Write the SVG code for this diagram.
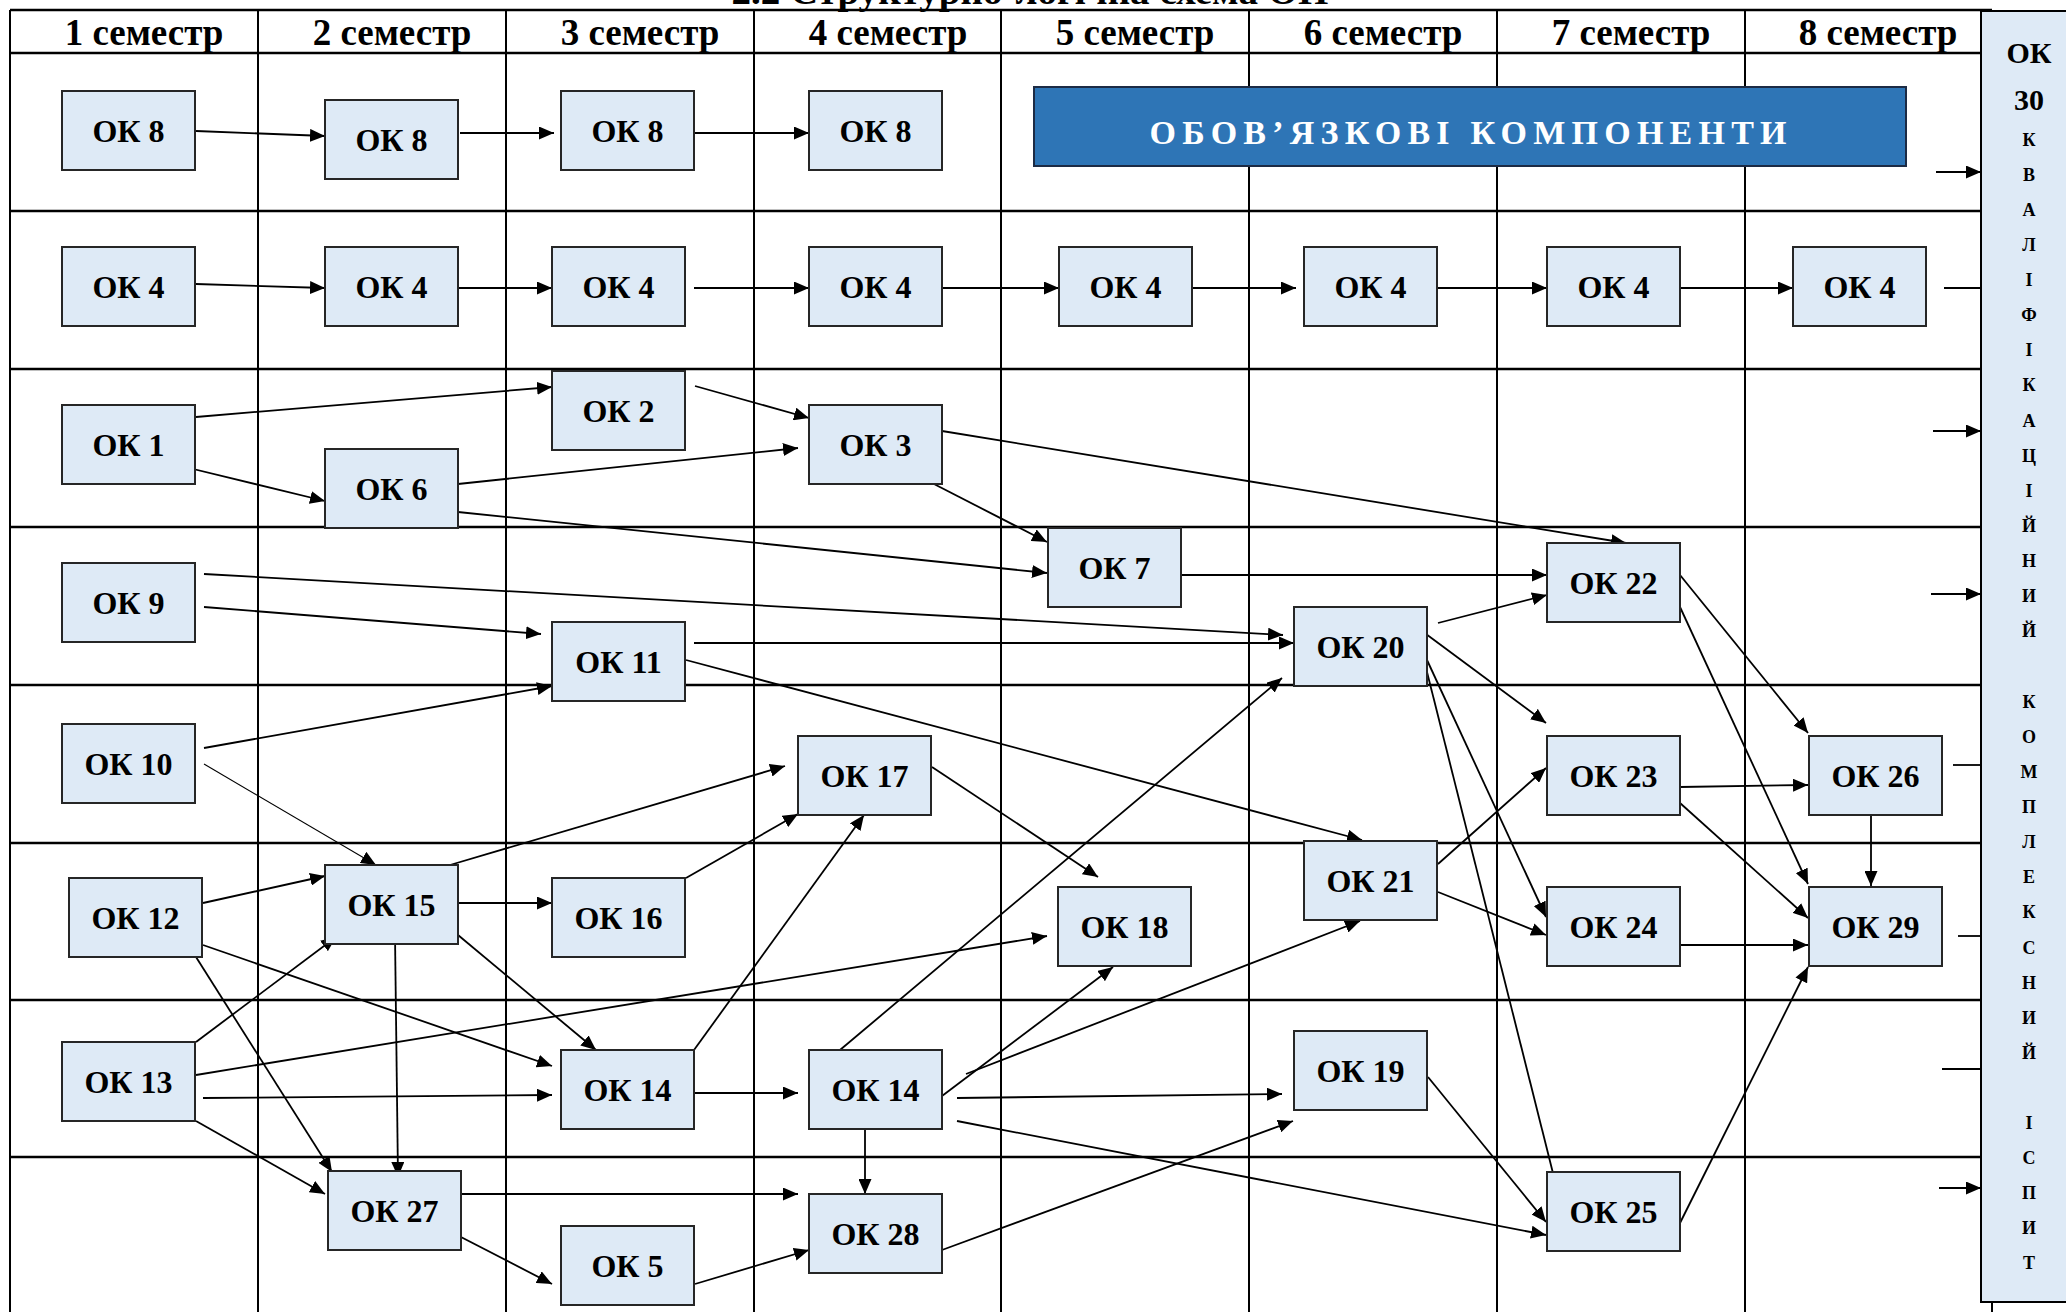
<svg xmlns="http://www.w3.org/2000/svg" width="2066" height="1312" viewBox="0 0 2066 1312">
<style>
.grid line{stroke:#000;stroke-width:2}
.grid .h{stroke-width:2.6}
.node rect{fill:#DEEAF6;stroke:#262626;stroke-width:2}
.node text{font-family:"Liberation Serif","Times New Roman",serif;font-weight:bold;font-size:32px;fill:#000;text-anchor:middle}
.hdr{font-family:"Liberation Serif","Times New Roman",serif;font-weight:bold;font-size:37px;fill:#000;text-anchor:middle}
.side{font-family:"Liberation Serif","Times New Roman",serif;font-weight:bold;fill:#000;text-anchor:middle}
.conn line{stroke:#000;stroke-width:1.8;fill:none}
.conn .a{marker-end:url(#arr)}
.conn .thin{stroke-width:1.1}
</style>
<defs>
<marker id="arr" markerUnits="userSpaceOnUse" markerWidth="16" markerHeight="13" refX="15" refY="6.5" orient="auto">
<path d="M0,0 L15,6.5 L0,13 z" fill="#000"/>
</marker>
</defs>
<rect width="2066" height="1312" fill="#fff"/>
<text class="hdr" x="1030" y="4" font-size="28" textLength="597" lengthAdjust="spacingAndGlyphs">2.2 Структурно-логічна схема ОП</text>
<g class="grid" id="grid">
<line class="h" x1="10" y1="10" x2="1992" y2="10"/>
<line class="h" x1="10" y1="53" x2="1992" y2="53"/>
<line class="h" x1="10" y1="211" x2="1992" y2="211"/>
<line class="h" x1="10" y1="369" x2="1992" y2="369"/>
<line class="h" x1="10" y1="527" x2="1992" y2="527"/>
<line class="h" x1="10" y1="685" x2="1992" y2="685"/>
<line class="h" x1="10" y1="843" x2="1992" y2="843"/>
<line class="h" x1="10" y1="1000" x2="1992" y2="1000"/>
<line class="h" x1="10" y1="1157" x2="1992" y2="1157"/>
<line x1="10" y1="10" x2="10" y2="1312"/>
<line x1="258" y1="10" x2="258" y2="1312"/>
<line x1="506" y1="10" x2="506" y2="1312"/>
<line x1="754" y1="10" x2="754" y2="1312"/>
<line x1="1001" y1="10" x2="1001" y2="1312"/>
<line x1="1249" y1="10" x2="1249" y2="1312"/>
<line x1="1497" y1="10" x2="1497" y2="1312"/>
<line x1="1745" y1="10" x2="1745" y2="1312"/>
<line x1="1992" y1="10" x2="1992" y2="1312"/>
</g>
<g id="headers">
<text class="hdr" x="144" y="45">1 семестр</text>
<text class="hdr" x="392" y="45">2 семестр</text>
<text class="hdr" x="640" y="45">3 семестр</text>
<text class="hdr" x="888" y="45">4 семестр</text>
<text class="hdr" x="1135" y="45">5 семестр</text>
<text class="hdr" x="1383" y="45">6 семестр</text>
<text class="hdr" x="1631" y="45">7 семестр</text>
<text class="hdr" x="1878" y="45">8 семестр</text>
</g>
<g id="banner">
<rect x="1034" y="87" width="872" height="79" fill="#2E75B6" stroke="#1C2B45" stroke-width="2"/>
<text x="1468" y="144" font-family="'Liberation Serif','Times New Roman',serif" font-weight="bold" font-size="34" fill="#fff" text-anchor="middle" textLength="637" lengthAdjust="spacing">ОБОВ’ЯЗКОВІ   КОМПОНЕНТИ</text>
</g>
<g class="conn" id="connectors">
<line class="a" x1="196" y1="131" x2="325" y2="136"/>
<line class="a" x1="460" y1="133" x2="554" y2="133"/>
<line class="a" x1="695" y1="133" x2="809" y2="133"/>
<line class="a" x1="196" y1="284" x2="325" y2="288"/>
<line class="a" x1="450" y1="288" x2="552" y2="288"/>
<line class="a" x1="694" y1="288" x2="809" y2="288"/>
<line class="a" x1="942" y1="288" x2="1059" y2="288"/>
<line class="a" x1="1191" y1="288" x2="1296" y2="288"/>
<line class="a" x1="1437" y1="288" x2="1547" y2="288"/>
<line class="a" x1="1680" y1="288" x2="1793" y2="288"/>
<line x1="1944" y1="288" x2="1981" y2="288"/>
<line class="a" x1="1936" y1="172" x2="1981" y2="172"/>
<line class="a" x1="1933" y1="431" x2="1981" y2="431"/>
<line class="a" x1="1931" y1="594" x2="1981" y2="594"/>
<line x1="1953" y1="765" x2="1981" y2="765"/>
<line x1="1958" y1="936" x2="1981" y2="936"/>
<line x1="1942" y1="1069" x2="1981" y2="1069"/>
<line class="a" x1="1939" y1="1188" x2="1981" y2="1188"/>
<line class="a" x1="196" y1="417" x2="552" y2="387"/>
<line class="a" x1="185" y1="467" x2="325" y2="501"/>
<line class="a" x1="695" y1="386" x2="809" y2="418"/>
<line class="a" x1="458" y1="484" x2="798" y2="448"/>
<line class="a" x1="458" y1="512" x2="1047" y2="573"/>
<line class="a" x1="934" y1="484" x2="1047" y2="542"/>
<line class="a" x1="942" y1="431" x2="1626" y2="543"/>
<line class="a" x1="204" y1="574" x2="1283" y2="635"/>
<line class="a" x1="204" y1="607" x2="541" y2="634"/>
<line class="a" x1="694" y1="643" x2="1294" y2="643"/>
<line class="a" x1="686" y1="660" x2="1362" y2="840"/>
<line class="a" x1="204" y1="748" x2="552" y2="686"/>
<line class="a thin" x1="204" y1="764" x2="376" y2="865"/>
<line class="a" x1="1181" y1="575" x2="1547" y2="575"/>
<line class="a" x1="1438" y1="623" x2="1547" y2="595"/>
<line class="a" x1="1426" y1="634" x2="1546" y2="723"/>
<line class="a" x1="1427" y1="660" x2="1546" y2="917"/>
<line class="a" x1="1427" y1="672" x2="1558" y2="1193"/>
<line class="a" x1="1680" y1="575" x2="1808" y2="733"/>
<line class="a" x1="1680" y1="607" x2="1808" y2="884"/>
<line class="a" x1="1438" y1="864" x2="1546" y2="768"/>
<line class="a" x1="1438" y1="892" x2="1546" y2="935"/>
<line class="a" x1="1680" y1="787" x2="1808" y2="785"/>
<line class="a" x1="1680" y1="803" x2="1808" y2="918"/>
<line class="a" x1="1680" y1="945" x2="1808" y2="945"/>
<line class="a" x1="1871" y1="815" x2="1871" y2="886"/>
<line class="a" x1="1680" y1="1223" x2="1808" y2="967"/>
<line class="a" x1="1428" y1="1077" x2="1546" y2="1222"/>
<line class="a" x1="203" y1="903" x2="325" y2="876"/>
<line class="a" x1="203" y1="945" x2="552" y2="1066"/>
<line class="a" x1="196" y1="957" x2="332" y2="1172"/>
<line class="a" x1="196" y1="1042" x2="336" y2="937"/>
<line class="a" x1="196" y1="1075" x2="1047" y2="936"/>
<line class="a" x1="203" y1="1098" x2="552" y2="1095"/>
<line class="a" x1="196" y1="1121" x2="325" y2="1194"/>
<line class="a" x1="458" y1="903" x2="552" y2="903"/>
<line class="a" x1="450" y1="865" x2="785" y2="766"/>
<line class="a" x1="458" y1="935" x2="596" y2="1050"/>
<line class="a" x1="395" y1="935" x2="398" y2="1177"/>
<line class="a" x1="686" y1="878" x2="798" y2="814"/>
<line class="a" x1="694" y1="1050" x2="864" y2="815"/>
<line class="a" x1="932" y1="767" x2="1098" y2="877"/>
<line class="a" x1="694" y1="1093" x2="798" y2="1093"/>
<line class="a" x1="840" y1="1050" x2="1282" y2="678"/>
<line class="a" x1="942" y1="1096" x2="1113" y2="967"/>
<line class="a" x1="966" y1="1074" x2="1360" y2="921"/>
<line class="a" x1="957" y1="1098" x2="1282" y2="1094"/>
<line class="a" x1="957" y1="1121" x2="1546" y2="1235"/>
<line class="a" x1="865" y1="1121" x2="865" y2="1194"/>
<line class="a" x1="461" y1="1194" x2="798" y2="1194"/>
<line class="a" x1="459" y1="1236" x2="552" y2="1284"/>
<line class="a" x1="695" y1="1284" x2="809" y2="1250"/>
<line class="a" x1="942" y1="1250" x2="1293" y2="1121"/>
</g>
<g class="node" id="ok8-1"><rect x="62" y="91" width="133" height="79"/><text x="128.5" y="142">ОК 8</text></g>
<g class="node" id="ok8-2"><rect x="325" y="100" width="133" height="79"/><text x="391.5" y="151">ОК 8</text></g>
<g class="node" id="ok8-3"><rect x="561" y="91" width="133" height="79"/><text x="627.5" y="142">ОК 8</text></g>
<g class="node" id="ok8-4"><rect x="809" y="91" width="133" height="79"/><text x="875.5" y="142">ОК 8</text></g>
<g class="node" id="ok4-1"><rect x="62" y="247" width="133" height="79"/><text x="128.5" y="298">ОК 4</text></g>
<g class="node" id="ok4-2"><rect x="325" y="247" width="133" height="79"/><text x="391.5" y="298">ОК 4</text></g>
<g class="node" id="ok4-3"><rect x="552" y="247" width="133" height="79"/><text x="618.5" y="298">ОК 4</text></g>
<g class="node" id="ok4-4"><rect x="809" y="247" width="133" height="79"/><text x="875.5" y="298">ОК 4</text></g>
<g class="node" id="ok4-5"><rect x="1059" y="247" width="133" height="79"/><text x="1125.5" y="298">ОК 4</text></g>
<g class="node" id="ok4-6"><rect x="1304" y="247" width="133" height="79"/><text x="1370.5" y="298">ОК 4</text></g>
<g class="node" id="ok4-7"><rect x="1547" y="247" width="133" height="79"/><text x="1613.5" y="298">ОК 4</text></g>
<g class="node" id="ok4-8"><rect x="1793" y="247" width="133" height="79"/><text x="1859.5" y="298">ОК 4</text></g>
<g class="node" id="ok1"><rect x="62" y="405" width="133" height="79"/><text x="128.5" y="456">ОК 1</text></g>
<g class="node" id="ok2"><rect x="552" y="371" width="133" height="79"/><text x="618.5" y="422">ОК 2</text></g>
<g class="node" id="ok6"><rect x="325" y="449" width="133" height="79"/><text x="391.5" y="500">ОК 6</text></g>
<g class="node" id="ok3"><rect x="809" y="405" width="133" height="79"/><text x="875.5" y="456">ОК 3</text></g>
<g class="node" id="ok9"><rect x="62" y="563" width="133" height="79"/><text x="128.5" y="614">ОК 9</text></g>
<g class="node" id="ok11"><rect x="552" y="622" width="133" height="79"/><text x="618.5" y="673">ОК 11</text></g>
<g class="node" id="ok7"><rect x="1048" y="528" width="133" height="79"/><text x="1114.5" y="579">ОК 7</text></g>
<g class="node" id="ok20"><rect x="1294" y="607" width="133" height="79"/><text x="1360.5" y="658">ОК 20</text></g>
<g class="node" id="ok22"><rect x="1547" y="543" width="133" height="79"/><text x="1613.5" y="594">ОК 22</text></g>
<g class="node" id="ok10"><rect x="62" y="724" width="133" height="79"/><text x="128.5" y="775">ОК 10</text></g>
<g class="node" id="ok17"><rect x="798" y="736" width="133" height="79"/><text x="864.5" y="787">ОК 17</text></g>
<g class="node" id="ok23"><rect x="1547" y="736" width="133" height="79"/><text x="1613.5" y="787">ОК 23</text></g>
<g class="node" id="ok26"><rect x="1809" y="736" width="133" height="79"/><text x="1875.5" y="787">ОК 26</text></g>
<g class="node" id="ok12"><rect x="69" y="878" width="133" height="79"/><text x="135.5" y="929">ОК 12</text></g>
<g class="node" id="ok15"><rect x="325" y="865" width="133" height="79"/><text x="391.5" y="916">ОК 15</text></g>
<g class="node" id="ok16"><rect x="552" y="878" width="133" height="79"/><text x="618.5" y="929">ОК 16</text></g>
<g class="node" id="ok18"><rect x="1058" y="887" width="133" height="79"/><text x="1124.5" y="938">ОК 18</text></g>
<g class="node" id="ok21"><rect x="1304" y="841" width="133" height="79"/><text x="1370.5" y="892">ОК 21</text></g>
<g class="node" id="ok24"><rect x="1547" y="887" width="133" height="79"/><text x="1613.5" y="938">ОК 24</text></g>
<g class="node" id="ok29"><rect x="1809" y="887" width="133" height="79"/><text x="1875.5" y="938">ОК 29</text></g>
<g class="node" id="ok13"><rect x="62" y="1042" width="133" height="79"/><text x="128.5" y="1093">ОК 13</text></g>
<g class="node" id="ok14a"><rect x="561" y="1050" width="133" height="79"/><text x="627.5" y="1101">ОК 14</text></g>
<g class="node" id="ok14b"><rect x="809" y="1050" width="133" height="79"/><text x="875.5" y="1101">ОК 14</text></g>
<g class="node" id="ok19"><rect x="1294" y="1031" width="133" height="79"/><text x="1360.5" y="1082">ОК 19</text></g>
<g class="node" id="ok27"><rect x="328" y="1171" width="133" height="79"/><text x="394.5" y="1222">ОК 27</text></g>
<g class="node" id="ok5"><rect x="561" y="1226" width="133" height="79"/><text x="627.5" y="1277">ОК 5</text></g>
<g class="node" id="ok28"><rect x="809" y="1194" width="133" height="79"/><text x="875.5" y="1245">ОК 28</text></g>
<g class="node" id="ok25"><rect x="1547" y="1172" width="133" height="79"/><text x="1613.5" y="1223">ОК 25</text></g>
<g id="ok30">
<rect x="1981" y="11" width="100" height="1291" fill="#DEEAF6" stroke="#000" stroke-width="2"/>
<text class="side" x="2029" y="63" font-size="30">ОК</text>
<text class="side" x="2029" y="110" font-size="30">30</text>
<g class="side" font-size="18">
<text class="side" x="2029" y="146">К</text>
<text class="side" x="2029" y="181">В</text>
<text class="side" x="2029" y="216">А</text>
<text class="side" x="2029" y="251">Л</text>
<text class="side" x="2029" y="286">І</text>
<text class="side" x="2029" y="321">Ф</text>
<text class="side" x="2029" y="356">І</text>
<text class="side" x="2029" y="391">К</text>
<text class="side" x="2029" y="427">А</text>
<text class="side" x="2029" y="462">Ц</text>
<text class="side" x="2029" y="497">І</text>
<text class="side" x="2029" y="532">Й</text>
<text class="side" x="2029" y="567">Н</text>
<text class="side" x="2029" y="602">И</text>
<text class="side" x="2029" y="637">Й</text>
<text class="side" x="2029" y="708">К</text>
<text class="side" x="2029" y="743">О</text>
<text class="side" x="2029" y="778">М</text>
<text class="side" x="2029" y="813">П</text>
<text class="side" x="2029" y="848">Л</text>
<text class="side" x="2029" y="883">Е</text>
<text class="side" x="2029" y="918">К</text>
<text class="side" x="2029" y="954">С</text>
<text class="side" x="2029" y="989">Н</text>
<text class="side" x="2029" y="1024">И</text>
<text class="side" x="2029" y="1059">Й</text>
<text class="side" x="2029" y="1129">І</text>
<text class="side" x="2029" y="1164">С</text>
<text class="side" x="2029" y="1199">П</text>
<text class="side" x="2029" y="1234">И</text>
<text class="side" x="2029" y="1269">Т</text>
</g>
</g>
</svg>
